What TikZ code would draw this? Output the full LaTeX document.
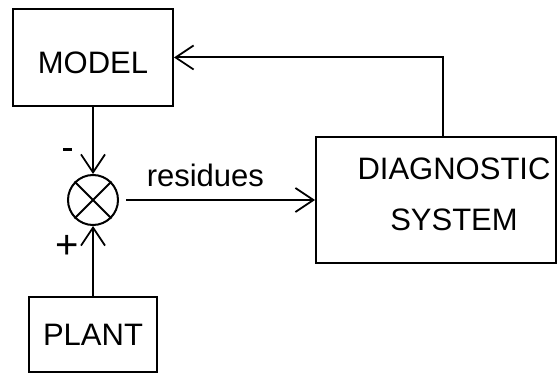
\documentclass[tikz,border=0pt]{standalone}
\usepackage{fontspec}
\setmainfont{Liberation Sans}
\usetikzlibrary{arrows.meta,positioning,calc}

\begin{document}
\begin{tikzpicture}[x=1pt,y=-1pt,
  block/.style={draw,line width=2pt,align=center,inner sep=0pt,
    font=\fontsize{31}{51}\selectfont},
  txt/.style={align=center,inner sep=0pt,font=\fontsize{31}{51}\selectfont},
  arrow/.style={-{Straight Barb[length=18pt,width=24pt,line width=1.8pt]}},
  sign/.style={inner sep=0pt}]
  \useasboundingbox (0,0) rectangle (560,377);
  \node[block,minimum width=160pt,minimum height=97pt,text height=32pt,text depth=0pt]
    (model) at (93,57.5) {MODEL};
  \node[block,minimum width=128pt,minimum height=75pt] (plant) at (93,334.5) {PLANT};
  \node[block,minimum width=240pt,minimum height=126pt] (diag) at (436,200) {};
  \node[txt] (diagtext) at ($(diag.center)+(18,-6)$) {DIAGNOSTIC\\SYSTEM};
  \node[draw,circle,line width=2pt,minimum size=50pt,inner sep=0pt] (sum) at (93,200) {};
  \draw[line width=2pt] (sum.north west) -- (sum.south east)
    (sum.north east) -- (sum.south west);

  \draw[arrow,line width=1.2pt] (model.south) -- (sum.north);
  \draw[arrow,line width=1.2pt] (plant.north) -- (sum.south);
  \draw[arrow,line width=2pt] (sum.east) ++(7,0) -- (diag.west)
    node[pos=0.42,above=9pt,font=\fontsize{31}{32}\selectfont] (res) {residues};
  \draw[arrow,line width=2pt] (diag.north) ++(7,0) |- (model.east);

  \node[sign,fill=black,minimum width=9pt,minimum height=3pt] (minus) at (67,150) {};
  \node[sign,font=\fontsize{40}{40}\selectfont] (plus) at (67.5,246.5) {+};
\end{tikzpicture}
\end{document}
